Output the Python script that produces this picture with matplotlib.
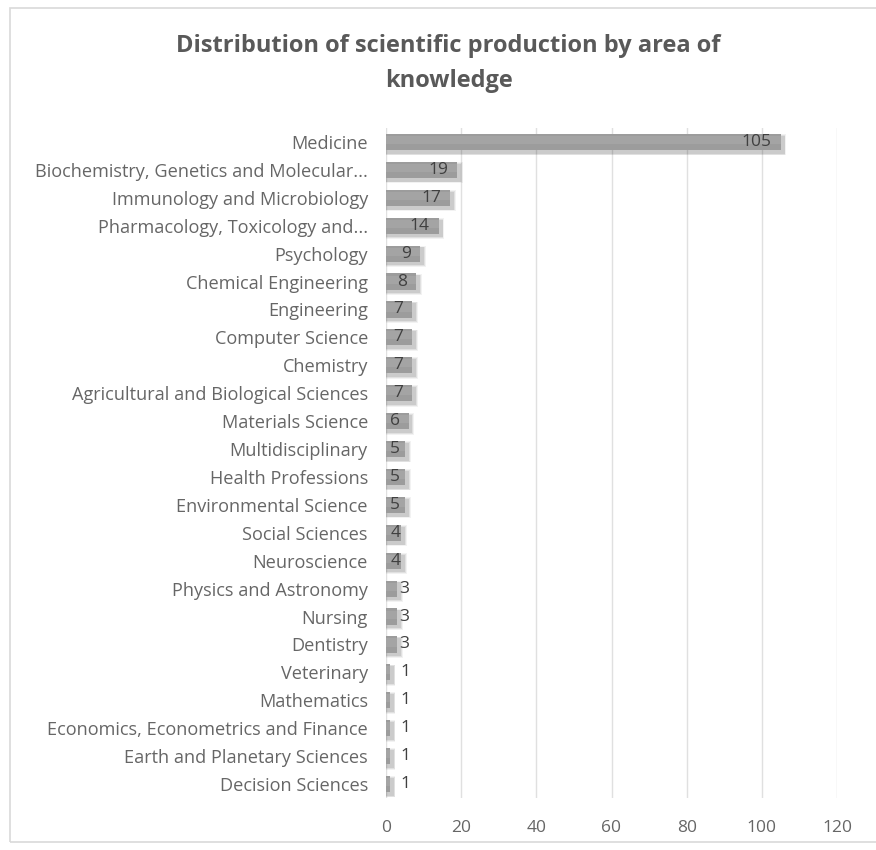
import matplotlib.pyplot as plt
from matplotlib.patches import Rectangle

# ---------------------------------
# data
# ---------------------------------
areas = [
    "Medicine",
    "Biochemistry, Genetics and Molecular...",
    "Immunology and Microbiology",
    "Pharmacology, Toxicology and...",
    "Psychology",
    "Chemical Engineering",
    "Engineering",
    "Computer Science",
    "Chemistry",
    "Agricultural and Biological Sciences",
    "Materials Science",
    "Multidisciplinary",
    "Health Professions",
    "Environmental Science",
    "Social Sciences",
    "Neuroscience",
    "Physics and Astronomy",
    "Nursing",
    "Dentistry",
    "Veterinary",
    "Mathematics",
    "Economics, Econometrics and Finance",
    "Earth and Planetary Sciences",
    "Decision Sciences",
]
documents = [105, 19, 17, 14, 9, 8, 7, 7, 7, 7, 6, 5, 5, 5, 4, 4, 3, 3, 3, 1, 1, 1, 1, 1]
x_ticks = [0, 20, 40, 60, 80, 100, 120]

plt.rcParams["font.family"] = ["Open Sans", "DejaVu Sans"]
text_col = "#666666"

fig = plt.figure(figsize=(8.76, 8.5), dpi=100)

# chart border like the excel chart area
fig.patches.append(Rectangle((10 / 876, 8 / 850), 1.2, 834 / 850, transform=fig.transFigure,
                             fill=False, edgecolor="#d9d9d9", linewidth=1.2))

ax = fig.add_axes([386 / 876, 1 - 798 / 850, 451 / 876, 670 / 850])

pos = list(range(len(areas)))
h = 0.58

# soft shadow under the bars (a few transparent layers)
for k, a in enumerate([0.05, 0.07, 0.09]):
    grow = 0.09 - k * 0.03
    ax.barh([p + 0.1 for p in pos], [v + 0.7 + grow * 8 for v in documents],
            height=h + grow * 2, left=0.1, color="black", alpha=a, linewidth=0, zorder=2)

# main bars
ax.barh(pos, documents, height=h, color="#9c9c9c", linewidth=0, zorder=3)
# slightly lighter upper part to fake the gradient
ax.barh([p - 0.07 for p in pos], documents, height=h * 0.5, color="#a4a4a4",
        linewidth=0, zorder=4)

# value labels at the inside end
for p, v in zip(pos, documents):
    if v > 3:
        ax.text(max(v - 2.4, 3.8), p, str(v), ha="right", va="center",
                fontsize=12.5, color="#404040", zorder=5)
    else:
        ax.text(v + 0.6 if v > 1 else 3.8, p, str(v), ha="left", va="center",
                fontsize=12.5, color="#404040", zorder=5)

ax.set_xlim(0, 120)
ax.set_ylim(len(areas) - 0.5, -0.5)
ax.set_xticks(x_ticks)
ax.set_yticks(pos)
ax.set_yticklabels(areas)
ax.tick_params(axis="both", length=0, labelsize=13.1, labelcolor=text_col)
ax.tick_params(axis="x", pad=16, labelsize=12.5)
ax.tick_params(axis="y", pad=13)
ax.grid(axis="x", color="#e0e0e0", linewidth=1)
ax.set_axisbelow(True)
for s in ax.spines.values():
    s.set_visible(False)

fig.text(0.512, 1 - 46 / 850, "Distribution of scientific production by area of",
         ha="center", va="center", fontsize=17, fontweight="bold", color="#595959")
fig.text(0.512, 1 - 81 / 850, "knowledge",
         ha="center", va="center", fontsize=17, fontweight="bold", color="#595959")

fig.savefig("out.png", dpi=100)
